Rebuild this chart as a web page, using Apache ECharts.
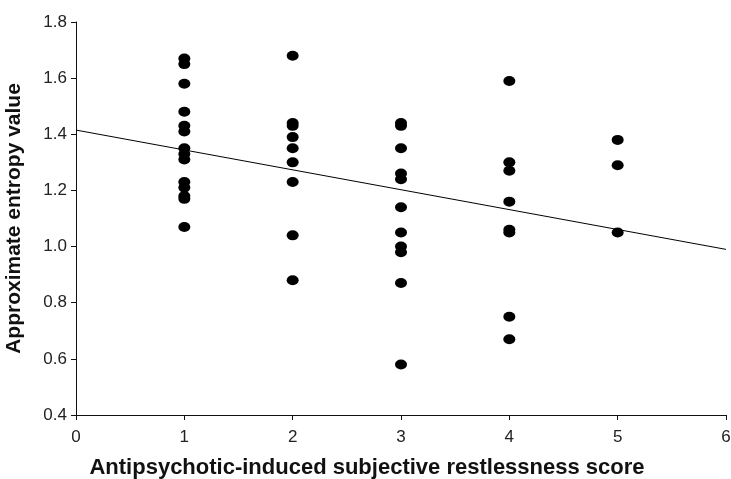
<!DOCTYPE html>
<html>
<head>
<meta charset="utf-8">
<script src="https://cdn.jsdelivr.net/npm/echarts@6/dist/echarts.min.js"></script>
<style>html,body{margin:0;padding:0;background:#fff;}#c{width:731px;height:479px;}</style>
</head>
<body>
<div id="c"></div>
<script>
var scores = [1, 2, 3, 4, 5];
var score1 = [1.67, 1.65, 1.58, 1.48, 1.43, 1.41, 1.35, 1.33, 1.31, 1.23, 1.21, 1.18, 1.17, 1.07];
var score2 = [1.68, 1.44, 1.43, 1.39, 1.35, 1.30, 1.23, 1.04, 0.88];
var score3 = [1.44, 1.43, 1.35, 1.26, 1.24, 1.14, 1.05, 1.00, 0.98, 0.87, 0.58];
var score4 = [1.59, 1.30, 1.27, 1.16, 1.06, 1.05, 0.75, 0.67];
var score5 = [1.38, 1.29, 1.05];
var fitLine = [[0, 1.415], [6, 0.99]];
var xTicks = [0, 1, 2, 3, 4, 5, 6];
var yTicks = [0.4, 0.6, 0.8, 1.0, 1.2, 1.4, 1.6, 1.8];

var groups = [score1, score2, score3, score4, score5];
var points = [];
groups.forEach(function (g, i) {
  g.forEach(function (v) { points.push([scores[i], v]); });
});

var chart = echarts.init(document.getElementById('c'));
var ff = 'Liberation Sans, Arial, sans-serif';
var axisText = {color: '#222', fontSize: 17, fontFamily: ff};
chart.setOption({
  animation: false,
  grid: {left: 76, right: 5, top: 22, bottom: 64, containLabel: false, outerBoundsMode: 'none'},
  xAxis: {
    type: 'value', min: xTicks[0], max: xTicks[xTicks.length - 1], interval: 1,
    name: 'Antipsychotic-induced subjective restlessness score',
    nameLocation: 'middle', nameGap: 42,
    nameTextStyle: {fontSize: 22, fontWeight: 'bold', color: '#111', fontFamily: ff, padding: [0, 68, 0, 0]},
    axisLine: {lineStyle: {color: '#111', width: 1}},
    axisTick: {show: true, length: 5, lineStyle: {color: '#111'}},
    axisLabel: Object.assign({margin: 14}, axisText),
    splitLine: {show: false}
  },
  yAxis: {
    type: 'value', min: yTicks[0], max: yTicks[yTicks.length - 1], interval: 0.2,
    name: 'Approximate entropy value',
    nameLocation: 'middle', nameGap: 51,
    nameTextStyle: {fontSize: 21, fontWeight: 'bold', color: '#111', fontFamily: ff},
    axisLine: {show: true, lineStyle: {color: '#111', width: 1}},
    axisTick: {show: true, length: 5, lineStyle: {color: '#111'}},
    axisLabel: Object.assign({margin: 9, formatter: function (v) { return v.toFixed(1); }}, axisText),
    splitLine: {show: false}
  },
  series: [
    {
      type: 'scatter', data: points, symbol: 'circle', symbolSize: [12, 10],
      itemStyle: {color: '#000', opacity: 1}, z: 3
    },
    {
      type: 'line', data: fitLine, symbol: 'none',
      lineStyle: {color: '#000', width: 1}, z: 2
    }
  ]
});
</script>
</body>
</html>
